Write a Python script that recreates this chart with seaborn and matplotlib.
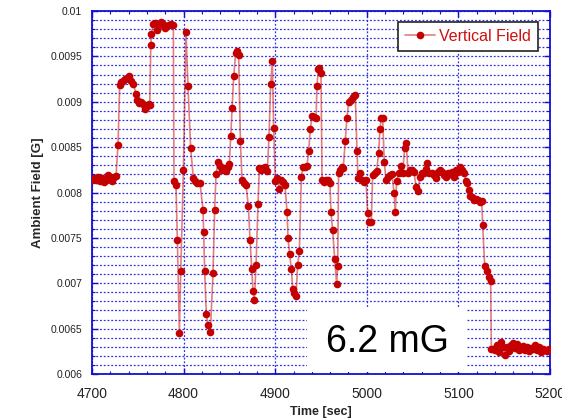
import matplotlib
matplotlib.use("Agg")
import matplotlib.pyplot as plt
from matplotlib.patches import Rectangle
from matplotlib.ticker import MultipleLocator, FixedLocator, FixedFormatter
import seaborn as sns
import pandas as pd

# ---- data ----
time_sec = [
    4700.0, 4702.2, 4704.4, 4706.6, 4708.7, 4710.9, 4713.1, 4715.3, 4717.5, 4719.7,
    4721.8, 4724.0, 4726.2, 4728.4, 4730.2, 4732.0, 4734.2, 4736.4, 4738.6, 4740.8,
    4743.0, 4745.1, 4748.0, 4749.5, 4751.0, 4753.1, 4755.3, 4757.5, 4759.7, 4761.9,
    4763.0, 4764.2, 4764.8, 4767.0, 4769.1, 4771.3, 4773.5, 4775.7, 4777.9, 4780.0,
    4782.2, 4784.4, 4786.6, 4788.8, 4789.5, 4791.7, 4793.2, 4795.4, 4796.9, 4799.8,
    4802.6, 4804.8, 4807.7, 4810.6, 4812.8, 4815.0, 4817.9,
    4821.2, 4821.9, 4823.0, 4824.8, 4826.6, 4829.2, 4832.1, 4833.9, 4835.4, 4837.6,
    4840.1, 4841.9, 4844.1, 4846.3, 4848.1, 4849.9, 4851.4, 4852.9, 4854.7, 4856.9,
    4858.7, 4860.1, 4862.0, 4863.8, 4865.6, 4868.1, 4870.7, 4872.5, 4874.3, 4875.8,
    4877.2, 4879.1, 4881.2, 4882.7, 4884.9, 4887.1, 4889.2, 4891.4, 4893.2, 4895.1,
    4896.9, 4898.3, 4900.2, 4902.3, 4904.5, 4906.7, 4908.9, 4910.7, 4912.9, 4914.0,
    4915.8, 4917.6, 4919.1, 4920.9, 4922.7, 4924.5, 4926.4, 4928.5, 4930.4, 4932.5,
    4934.7, 4936.5, 4938.4, 4940.2, 4942.4, 4944.6, 4945.6, 4947.1,
    4948.1, 4950.0, 4951.1, 4953.2, 4955.4, 4957.6, 4959.8, 4960.9, 4962.7, 4964.9,
    4967.1, 4968.2, 4969.2, 4971.1, 4972.9, 4974.3, 4976.5, 4978.3, 4980.2, 4982.3,
    4984.5, 4987.4, 4989.3, 4990.4, 4992.5, 4994.7, 4996.9, 4999.1, 5000.9, 5002.7,
    5004.9, 5006.4, 5008.5, 5010.7, 5012.9, 5014.4, 5015.8, 5017.3, 5019.1, 5020.9,
    5023.1, 5025.3, 5027.5, 5029.7, 5031.1, 5032.6, 5034.7, 5036.9, 5039.1, 5041.3,
    5043.1, 5045.0, 5047.1, 5049.3, 5051.5, 5053.7, 5055.9, 5058.0, 5060.2, 5062.4,
    5064.6, 5066.0, 5068.2,
    5071.2, 5073.4, 5075.6, 5077.7, 5079.9, 5082.1, 5084.3, 5086.5, 5088.7, 5090.8,
    5093.0, 5095.2, 5097.4, 5099.6, 5101.8, 5103.9, 5106.1, 5108.3, 5109.8, 5111.2,
    5112.7, 5114.9, 5117.0, 5119.2, 5121.4, 5123.6, 5125.4, 5126.5, 5128.7, 5130.9,
    5133.0, 5135.2, 5136.0, 5138.1, 5140.3, 5142.5, 5144.7, 5146.9, 5149.0, 5151.2,
    5153.4, 5155.6, 5157.8, 5159.9, 5162.1, 5164.3, 5166.5, 5168.7, 5170.8, 5173.0,
    5175.2, 5177.4, 5179.6, 5181.7, 5183.9, 5186.1, 5188.3, 5190.5, 5192.6, 5194.8,
    5197.0, 5198.5,
]

field_g = [
    0.00814, 0.00816, 0.00814, 0.00817, 0.00813, 0.00816, 0.00812, 0.00814, 0.00819, 0.00816,
    0.00813, 0.00817, 0.00818, 0.00852, 0.00918, 0.00922, 0.00923, 0.00925, 0.00926, 0.00928,
    0.00923, 0.00920, 0.00909, 0.00902, 0.00899, 0.00900, 0.00898, 0.00892, 0.00895, 0.00897,
    0.00896, 0.00962, 0.00975, 0.00986, 0.00987, 0.00979, 0.00985, 0.00988, 0.00986, 0.00981,
    0.00983, 0.00985, 0.00986, 0.00985, 0.00813, 0.00808, 0.00748, 0.00645, 0.00714, 0.00825,
    0.00977, 0.00917, 0.00849, 0.00816, 0.00813, 0.00811, 0.00810,
    0.00781, 0.00757, 0.00714, 0.00666, 0.00654, 0.00646, 0.00711, 0.00781, 0.00820, 0.00834,
    0.00829, 0.00825, 0.00827, 0.00824, 0.00828, 0.00831, 0.00862, 0.00893, 0.00928, 0.00954,
    0.00956, 0.00952, 0.00857, 0.00814, 0.00811, 0.00808, 0.00785, 0.00748, 0.00716, 0.00691,
    0.00681, 0.00720, 0.00787, 0.00827, 0.00825, 0.00827, 0.00828, 0.00824, 0.00861, 0.00920,
    0.00945, 0.00871, 0.00813, 0.00816, 0.00804, 0.00814, 0.00812, 0.00808, 0.00779, 0.00750,
    0.00732, 0.00716, 0.00694, 0.00689, 0.00686, 0.00720, 0.00736, 0.00817, 0.00828, 0.00828,
    0.00829, 0.00846, 0.00870, 0.00884, 0.00883, 0.00882, 0.00917, 0.00936,
    0.00937, 0.00932, 0.00814, 0.00812, 0.00814, 0.00814, 0.00810, 0.00778, 0.00759, 0.00727,
    0.00699, 0.00719, 0.00822, 0.00825, 0.00828, 0.00827, 0.00857, 0.00882, 0.00900, 0.00902,
    0.00905, 0.00907, 0.00846, 0.00816, 0.00821, 0.00814, 0.00812, 0.00814, 0.00777, 0.00768,
    0.00767, 0.00819, 0.00822, 0.00824, 0.00843, 0.00870, 0.00882, 0.00882, 0.00834, 0.00814,
    0.00817, 0.00819, 0.00820, 0.00800, 0.00778, 0.00813, 0.00822, 0.00829, 0.00821, 0.00849,
    0.00855, 0.00821, 0.00825, 0.00825, 0.00823, 0.00806, 0.00802, 0.00817, 0.00821, 0.00822,
    0.00826, 0.00833, 0.00821,
    0.00821, 0.00819, 0.00816, 0.00823, 0.00825, 0.00823, 0.00819, 0.00817, 0.00821, 0.00820,
    0.00823, 0.00817, 0.00825, 0.00823, 0.00828, 0.00825, 0.00822, 0.00813, 0.00810, 0.00803,
    0.00796, 0.00795, 0.00792, 0.00793, 0.00792, 0.00790, 0.00791, 0.00764, 0.00719, 0.00713,
    0.00707, 0.00703, 0.00627, 0.00628, 0.00626, 0.00632, 0.00624, 0.00635, 0.00630, 0.00621,
    0.00630, 0.00625, 0.00632, 0.00634, 0.00629, 0.00633, 0.00626, 0.00628, 0.00631, 0.00626,
    0.00630, 0.00625, 0.00629, 0.00627, 0.00632, 0.00626, 0.00630, 0.00624, 0.00628, 0.00626,
    0.00625, 0.00628,
]

series_label = "Vertical Field"
x_ticks = [4700, 4800, 4900, 5000, 5100, 5200]
x_tick_labels = ["4700", "4800", "4900", "5000", "5100", "5200"]
y_ticks = [0.006, 0.0065, 0.007, 0.0075, 0.008, 0.0085, 0.009, 0.0095, 0.01]
y_tick_labels = ["0.006", "0.0065", "0.007", "0.0075", "0.008", "0.0085", "0.009", "0.0095", "0.01"]
annotation_text = "6.2 mG"

df = pd.DataFrame({"Time": time_sec, "Field": field_g, "series": series_label})

# ---- style ----
sns.set_theme(style="white")
plt.rcParams["font.family"] = ["Liberation Sans", "DejaVu Sans"]

fig = plt.figure(figsize=(5.62, 4.19), dpi=100)
ax = fig.add_axes([92 / 562, 1 - 374 / 419, (550 - 92) / 562, (374 - 11) / 419])

sns.lineplot(
    data=df, x="Time", y="Field", ax=ax, sort=False, estimator=None,
    color=(0.80, 0.08, 0.08, 0.55), linewidth=1.2,
    marker="o", markersize=5.5, markerfacecolor="#c40000",
    markeredgecolor="#c40000", markeredgewidth=0, label=series_label, zorder=3,
)

ax.set_xlim(4700, 5200)
ax.set_ylim(0.006, 0.01)

ax.xaxis.set_major_locator(FixedLocator(x_ticks))
ax.xaxis.set_major_formatter(FixedFormatter(x_tick_labels))
ax.xaxis.set_minor_locator(MultipleLocator(20))
ax.yaxis.set_major_locator(FixedLocator(y_ticks))
ax.yaxis.set_major_formatter(FixedFormatter(y_tick_labels))
ax.yaxis.set_minor_locator(MultipleLocator(0.0001))

blue = "#1010d0"
for s in ax.spines.values():
    s.set_color(blue)
    s.set_linewidth(1.3)
    s.set_visible(True)

ax.tick_params(which="both", direction="in", top=True, right=True,
               bottom=True, left=True, color=blue)
ax.tick_params(which="major", length=4, width=1)
ax.tick_params(which="minor", length=2.5, width=0.8)
ax.tick_params(axis="x", which="major", labelsize=10, pad=9, labelcolor="#222222")
ax.tick_params(axis="y", which="major", labelsize=7.5, pad=7, labelcolor="#222222")

ax.set_axisbelow(True)
ax.grid(which="major", axis="x", color="#3030e0", linestyle=(0, (1.5, 1.5)), linewidth=0.9)
ax.grid(which="both", axis="y", color="#3030e0", linestyle=(0, (1.5, 1.5)), linewidth=0.9)

ax.set_xlabel("Time [sec]", fontsize=9, fontweight="bold", labelpad=4)
ax.set_ylabel("Ambient Field [G]", fontsize=9.5, fontweight="bold", labelpad=5)

# white box with annotation
ax.add_patch(Rectangle((0.469, 0.006), 0.350, 0.178, transform=ax.transAxes,
                       facecolor="white", edgecolor="none", zorder=1))
ax.text(0.644, 0.0606, annotation_text, transform=ax.transAxes, ha="center",
        va="baseline", fontsize=27, color="black", zorder=4)

leg = ax.legend(loc="upper right", bbox_to_anchor=(0.974, 0.970), borderaxespad=0,
                frameon=True, fancybox=False, fontsize=11.5, labelcolor="#cc1010",
                handlelength=1.9, handletextpad=0.25, borderpad=0.45)
leg.get_frame().set_edgecolor("#222222")
leg.get_frame().set_linewidth(1.2)
leg.get_frame().set_alpha(1)

fig.savefig("out.png", dpi=100)
